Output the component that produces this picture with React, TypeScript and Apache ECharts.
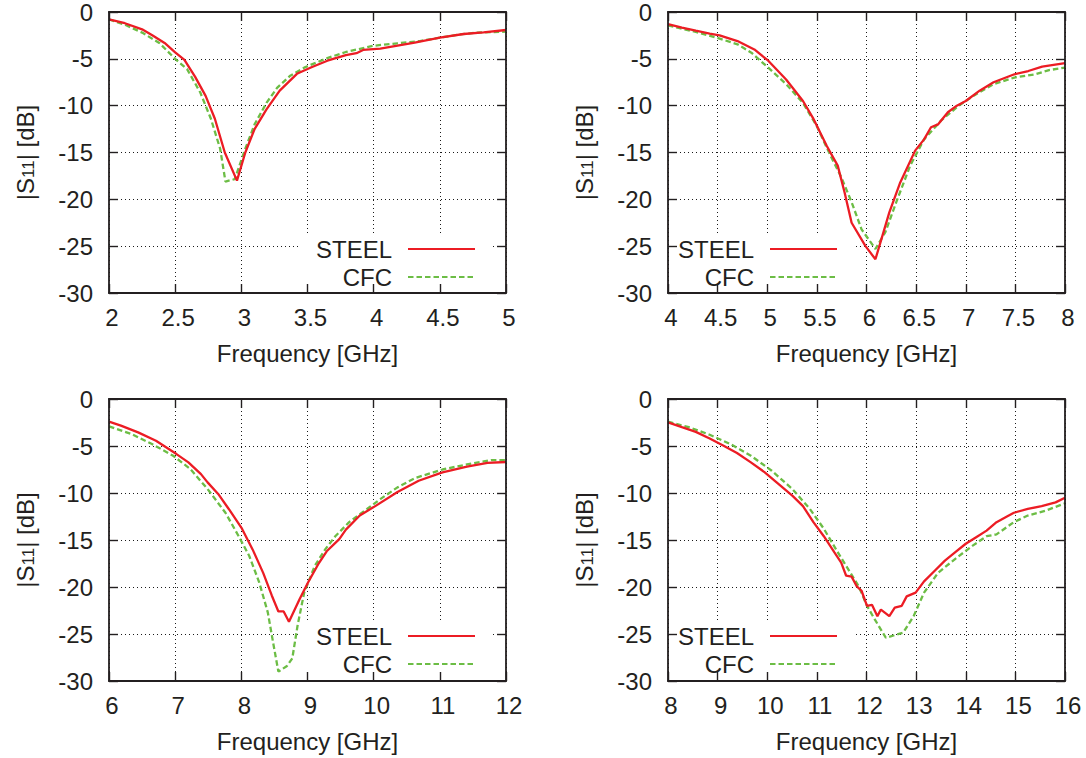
import React, { useEffect, useRef } from 'react';
import * as echarts from 'echarts';

const FONT = '"Liberation Sans", Arial, Helvetica, sans-serif';
const INK = '#231f20';
const RED = '#ec1c24';
const GREEN = '#6cbd45';

const seriesNames = ['STEEL', 'CFC'];
const xAxisName = 'Frequency [GHz]';
const yAxisName = '{m||S}{sub|11}{m|| [dB]}';
const yMin = -30;
const yMax = 0;
const yStep = 5;

// Panel 1: 2–5 GHz
const p1SteelF = [2.0, 2.12, 2.25, 2.33, 2.42, 2.5, 2.57, 2.65, 2.73, 2.8, 2.875, 2.967, 3.03, 3.1, 3.19, 3.29, 3.42, 3.53, 3.65, 3.79, 3.87, 3.92, 4.05, 4.18, 4.31, 4.5, 4.68, 4.83, 5.0];
const p1SteelV = [-0.78, -1.2, -1.85, -2.5, -3.3, -4.3, -5.1, -6.9, -8.96, -11.4, -15.0, -18.0, -15.0, -12.5, -10.4, -8.4, -6.6, -5.9, -5.2, -4.6, -4.4, -4.05, -3.9, -3.6, -3.27, -2.74, -2.35, -2.17, -1.92];
const p1CfcF = [2.0, 2.12, 2.25, 2.38, 2.5, 2.59, 2.69, 2.77, 2.84, 2.88, 2.95, 3.03, 3.1, 3.19, 3.27, 3.37, 3.48, 3.66, 3.79, 4.0, 4.18, 4.35, 4.5, 4.65, 4.78, 5.0];
const p1CfcV = [-0.8, -1.35, -2.2, -3.3, -5.0, -6.1, -8.6, -11.4, -14.6, -18.1, -17.85, -14.6, -12.0, -9.7, -8.1, -6.8, -5.9, -4.87, -4.27, -3.6, -3.34, -3.1, -2.74, -2.4, -2.2, -2.1];

// Panel 2: 4–8 GHz
const p2SteelF = [4.0, 4.14, 4.28, 4.42, 4.52, 4.7, 4.87, 5.01, 5.19, 5.36, 5.46, 5.6, 5.71, 5.78, 5.85, 5.99, 6.09, 6.16, 6.23, 6.34, 6.49, 6.58, 6.65, 6.72, 6.82, 6.91, 7.0, 7.14, 7.28, 7.49, 7.63, 7.77, 8.0];
const p2SteelV = [-1.3, -1.67, -2.0, -2.3, -2.5, -3.1, -4.0, -5.2, -7.2, -9.5, -11.3, -14.3, -16.4, -19.3, -22.5, -25.0, -26.4, -23.9, -21.4, -18.2, -14.8, -13.6, -12.3, -12.0, -10.7, -10.0, -9.5, -8.4, -7.5, -6.65, -6.3, -5.83, -5.47];
const p2CfcF = [4.0, 4.28, 4.49, 4.7, 4.84, 5.01, 5.19, 5.36, 5.5, 5.64, 5.74, 5.85, 5.95, 6.09, 6.19, 6.3, 6.44, 6.58, 6.75, 6.93, 7.1, 7.28, 7.49, 7.7, 7.84, 8.0];
const p2CfcV = [-1.42, -2.13, -2.74, -3.45, -4.34, -5.94, -7.7, -9.7, -12.2, -15.4, -17.5, -20.3, -23.2, -25.3, -23.5, -20.3, -16.4, -13.6, -11.6, -10.0, -8.8, -7.7, -7.0, -6.65, -6.2, -5.94];

// Panel 3: 6–12 GHz
const p3SteelF = [6.0, 6.18, 6.44, 6.71, 7.02, 7.2, 7.39, 7.49, 7.65, 7.81, 8.01, 8.17, 8.33, 8.46, 8.56, 8.64, 8.72, 8.88, 9.01, 9.16, 9.29, 9.48, 9.58, 9.79, 10.0, 10.36, 10.68, 11.04, 11.41, 11.72, 12.0];
const p3SteelV = [-2.41, -2.84, -3.55, -4.44, -5.86, -6.74, -7.99, -8.87, -10.1, -11.7, -13.8, -16.0, -18.5, -20.9, -22.6, -22.6, -23.7, -21.3, -19.5, -17.6, -16.2, -14.9, -13.9, -12.4, -11.5, -9.9, -8.7, -7.8, -7.2, -6.8, -6.7];
const p3CfcF = [6.0, 6.34, 6.65, 6.97, 7.23, 7.49, 7.76, 7.96, 8.12, 8.27, 8.4, 8.48, 8.56, 8.69, 8.77, 8.85, 8.95, 9.11, 9.27, 9.42, 9.63, 9.9, 10.1, 10.36, 10.63, 11.04, 11.41, 11.78, 12.0];
const p3CfcV = [-2.91, -3.73, -4.79, -6.04, -7.45, -9.58, -12.1, -14.6, -16.7, -19.5, -22.7, -25.9, -29.0, -28.4, -27.6, -24.1, -20.6, -17.75, -15.97, -14.6, -13.1, -11.7, -10.65, -9.4, -8.4, -7.5, -6.96, -6.5, -6.5];

// Panel 4: 8–16 GHz
const p4SteelF = [8.0, 8.28, 8.56, 8.84, 9.12, 9.39, 9.67, 9.95, 10.23, 10.51, 10.72, 10.93, 11.14, 11.35, 11.49, 11.59, 11.7, 11.8, 11.9, 12.01, 12.11, 12.22, 12.29, 12.46, 12.57, 12.71, 12.81, 12.99, 13.16, 13.37, 13.58, 13.79, 14.0, 14.21, 14.42, 14.62, 14.83, 14.97, 15.25, 15.53, 15.81, 16.0];
const p4SteelV = [-2.48, -3.0, -3.5, -4.2, -4.97, -5.75, -6.74, -7.8, -9.05, -10.3, -11.4, -13.1, -14.6, -16.3, -17.4, -18.8, -18.9, -19.9, -20.4, -22.0, -21.9, -23.1, -22.4, -23.1, -22.2, -22.0, -21.0, -20.6, -19.4, -18.3, -17.2, -16.3, -15.4, -14.7, -14.0, -13.1, -12.5, -12.1, -11.7, -11.4, -11.0, -10.5];
const p4CfcF = [8.0, 8.42, 8.84, 9.26, 9.67, 10.09, 10.51, 10.86, 11.14, 11.42, 11.63, 11.84, 12.01, 12.15, 12.39, 12.74, 12.95, 13.16, 13.44, 13.79, 14.14, 14.42, 14.62, 14.97, 15.25, 15.6, 16.0];
const p4CfcV = [-2.41, -3.0, -3.8, -4.8, -6.03, -7.63, -9.6, -11.7, -13.8, -16.3, -18.1, -19.9, -22.0, -23.3, -25.4, -24.85, -23.1, -20.6, -18.5, -17.0, -15.6, -14.6, -14.4, -13.1, -12.4, -11.9, -11.1];

const panelRanges = [
  { xMin: 2, xMax: 5, xStep: 0.5 },
  { xMin: 4, xMax: 8, xStep: 0.5 },
  { xMin: 6, xMax: 12, xStep: 1 },
  { xMin: 8, xMax: 16, xStep: 1 },
];
const panelData = [
  { steelF: p1SteelF, steelV: p1SteelV, cfcF: p1CfcF, cfcV: p1CfcV },
  { steelF: p2SteelF, steelV: p2SteelV, cfcF: p2CfcF, cfcV: p2CfcV },
  { steelF: p3SteelF, steelV: p3SteelV, cfcF: p3CfcF, cfcV: p3CfcV },
  { steelF: p4SteelF, steelV: p4SteelV, cfcF: p4CfcF, cfcV: p4CfcV },
];
// layout (pixels)
const panelLayout = [
  { left: 109, top: 12, height: 281, legendRight: 595, legendTop: 233, padLeft: 16 },
  { left: 668, top: 12, height: 281, legendRight: 233, legendTop: 233, padLeft: 8 },
  { left: 109, top: 399, height: 282, legendRight: 595, legendTop: 620, padLeft: 16 },
  { left: 668, top: 399, height: 282, legendRight: 233, legendTop: 620, padLeft: 8 },
];
const PLOT_W = 397;

const zip = (f: number[], v: number[]) => f.map((x, i) => [x, v[i]]);

function buildOption() {
  const grid: any[] = [];
  const xAxis: any[] = [];
  const yAxis: any[] = [];
  const series: any[] = [];
  const legend: any[] = [];

  const border = { show: true, onZero: false, lineStyle: { color: INK, width: 1.8 } };
  const tick = { show: true, inside: true, length: 9, lineStyle: { color: INK, width: 1.4 } };
  const dots = { show: true, lineStyle: { color: '#1a1a1a', width: 1, type: [1, 3] } };
  const labelFont = { fontFamily: FONT, fontSize: 24, color: INK };

  panelRanges.forEach((r, i) => {
    const L = panelLayout[i];
    const d = panelData[i];
    grid.push({ left: L.left, top: L.top, width: PLOT_W, height: L.height });
    const xr = { type: 'value', gridIndex: i, min: r.xMin, max: r.xMax, interval: r.xStep };
    const yr = { type: 'value', gridIndex: i, min: yMin, max: yMax, interval: yStep };
    const xBase = xAxis.length;
    const yBase = yAxis.length;
    // grid lines (below everything)
    xAxis.push({ ...xr, position: 'bottom', z: 0, axisLine: { show: false, onZero: false }, axisTick: { show: false }, axisLabel: { show: false }, splitLine: dots });
    yAxis.push({ ...yr, position: 'left', z: 0, axisLine: { show: false, onZero: false }, axisTick: { show: false }, axisLabel: { show: false }, splitLine: dots });
    // main border axes with labels
    xAxis.push({
      ...xr, position: 'bottom', z: 10, axisLine: border, axisTick: tick,
      axisLabel: { ...labelFont, margin: 12, padding: [0, 0, 0, 6] },
      splitLine: { show: false },
      name: xAxisName, nameLocation: 'middle', nameGap: 48,
      nameTextStyle: { ...labelFont },
    });
    yAxis.push({
      ...yr, position: 'left', z: 10, axisLine: border, axisTick: tick,
      axisLabel: { ...labelFont, margin: 16 },
      splitLine: { show: false },
      name: yAxisName, nameLocation: 'middle', nameGap: 72, nameRotate: 90,
      nameTextStyle: {
        ...labelFont, lineHeight: 24,
        rich: {
          m: { fontFamily: FONT, fontSize: 24, color: INK, lineHeight: 24, verticalAlign: 'middle' },
          sub: { fontFamily: FONT, fontSize: 17, color: INK, lineHeight: 8, verticalAlign: 'bottom' },
        },
      },
    });
    // mirror axes
    xAxis.push({ ...xr, position: 'top', z: 10, axisLine: border, axisTick: tick, axisLabel: { show: false }, splitLine: { show: false } });
    yAxis.push({ ...yr, position: 'right', z: 10, axisLine: border, axisTick: tick, axisLabel: { show: false }, splitLine: { show: false } });

    series.push({
      name: seriesNames[0], type: 'line', xAxisIndex: xBase + 1, yAxisIndex: yBase + 1,
      data: zip(d.steelF, d.steelV), symbol: 'none', showSymbol: false, z: 3,
      lineStyle: { color: RED, width: 2.3 }, itemStyle: { color: RED },
    });
    series.push({
      name: seriesNames[1], type: 'line', xAxisIndex: xBase + 1, yAxisIndex: yBase + 1,
      data: zip(d.cfcF, d.cfcV), symbol: 'none', showSymbol: false, z: 2,
      lineStyle: { color: GREEN, width: 2.3, type: [5.5, 3] }, itemStyle: { color: GREEN },
    });

    legend.push({
      orient: 'vertical', align: 'right', right: L.legendRight, top: L.legendTop,
      itemWidth: 67, itemHeight: 14, itemGap: 4,
      padding: [4, 15, 11, L.padLeft], backgroundColor: '#ffffff',
      selectedMode: false, z: 4,
      itemStyle: { opacity: 0, borderWidth: 0 },
      textStyle: { ...labelFont, lineHeight: 20, padding: [0, 11, 0, 0] },
      data: seriesNames,
    });
  });

  return { animation: false, backgroundColor: '#ffffff', grid, xAxis, yAxis, series, legend };
}

export default function App() {
  const ref = useRef<HTMLDivElement>(null);
  useEffect(() => {
    if (!ref.current) return;
    const chart = echarts.init(ref.current, undefined, { renderer: 'svg' });
    chart.setOption(buildOption() as any);
    return () => chart.dispose();
  }, []);
  return <div ref={ref} style={{ position: 'fixed', left: 0, top: 0, width: 1086, height: 758, background: '#fff' }} />;
}
